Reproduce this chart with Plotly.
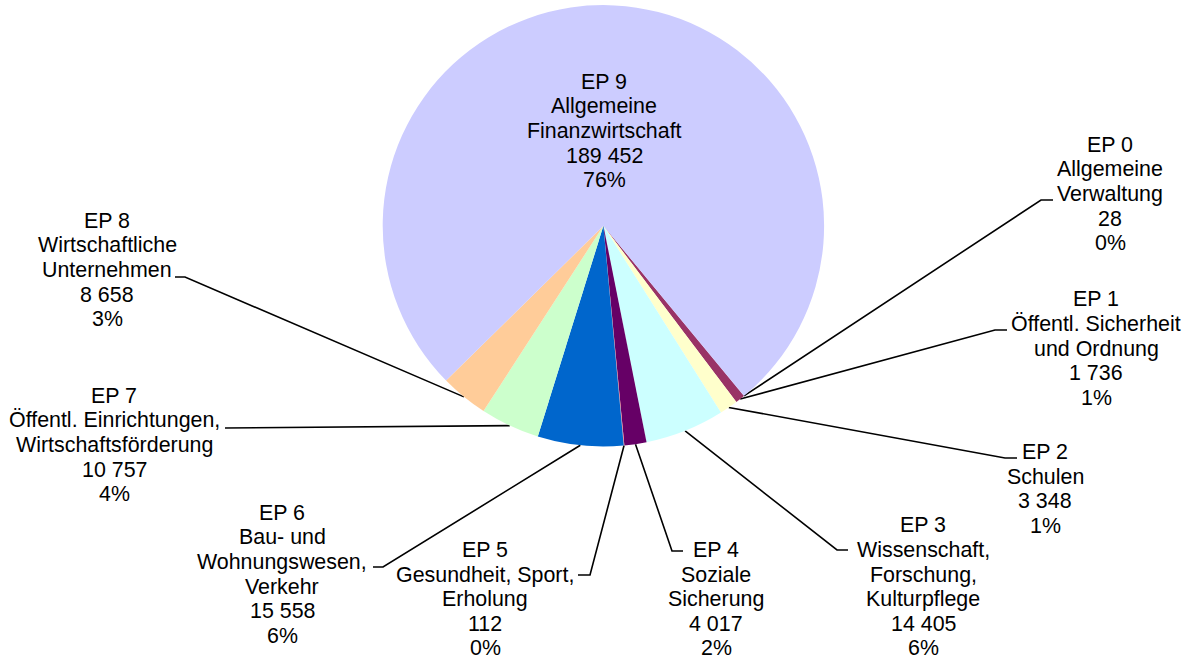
import math
import plotly.graph_objects as go

# data
codes = ["EP 0", "EP 1", "EP 2", "EP 3", "EP 4", "EP 5", "EP 6", "EP 7", "EP 8", "EP 9"]
names = [
    ["Allgemeine", "Verwaltung"],
    ["Öffentl. Sicherheit", "und Ordnung"],
    ["Schulen"],
    ["Wissenschaft,", "Forschung,", "Kulturpflege"],
    ["Soziale", "Sicherung"],
    ["Gesundheit, Sport,", "Erholung"],
    ["Bau- und", "Wohnungswesen,", "Verkehr"],
    ["Öffentl. Einrichtungen,", "Wirtschaftsförderung"],
    ["Wirtschaftliche", "Unternehmen"],
    ["Allgemeine", "Finanzwirtschaft"],
]
values = [28, 1736, 3348, 14405, 4017, 112, 15558, 10757, 8658, 189452]
colors = ["#9999FF", "#993366", "#FFFFCC", "#CCFFFF", "#660066",
          "#FF8080", "#0066CC", "#CCFFCC", "#FFCC99", "#CCCCFF"]

# layout (pixels)
W, H = 1189, 660
CX, CY, R = 603.4, 225.8, 220.7
ROTATION = 140.4
FONT = dict(family="Liberation Sans, Arial, sans-serif", size=21.4, color="black")
LINE_H = 24.6

# centre of each label block
label_pos = [(1110, 194), (1096, 348.6), (1045, 488.9), (923, 586.9), (716, 599.2),
             (485, 599.2), (282, 574.3), (114, 445), (107, 270), (604, 131)]
# where the leader meets the label: x, y, length of the short horizontal tick
leader_end = [(1041, 200, 12), (995, 330, 12), (1005, 458, 12), (837, 550, 11),
              (672, 551, 11), (590, 575, -12), (383, 567, -10), (237, 428, -12),
              (185, 277, -10), None]

total = sum(values)
fmt = lambda v: f"{v:,}".replace(",", " ")

fig = go.Figure()
fig.add_trace(go.Pie(
    labels=codes,
    values=values,
    sort=False,
    direction="clockwise",
    rotation=ROTATION,
    marker=dict(colors=colors, line=dict(width=0)),
    textinfo="none",
    showlegend=False,
    domain=dict(x=[(CX - R) / W, (CX + R) / W], y=[1 - (CY + R) / H, 1 - (CY - R) / H]),
))

# leader lines from the slice middles
angle = ROTATION
for i, v in enumerate(values):
    dang = v / total * 360
    mid = math.radians(angle + dang / 2)
    angle += dang
    if leader_end[i] is None:
        continue
    sx, sy = CX + R * math.sin(mid), CY - R * math.cos(mid)
    ex, ey, tick = leader_end[i]
    fig.add_trace(go.Scatter(
        x=[sx, ex, ex + tick], y=[sy, ey, ey],
        mode="lines", line=dict(color="black", width=1.6),
        hoverinfo="skip", showlegend=False,
    ))

annotations = []
for i, v in enumerate(values):
    lines = [codes[i]] + names[i] + [fmt(v), f"{round(v / total * 100)}%"]
    lx, ly = label_pos[i]
    n = len(lines)
    for k, t in enumerate(lines):
        annotations.append(dict(
            x=lx, y=ly + (k - (n - 1) / 2) * LINE_H, xref="x", yref="y",
            text=t, showarrow=False, font=FONT,
            xanchor="center", yanchor="middle",
        ))

fig.update_layout(
    width=W, height=H,
    margin=dict(l=0, r=0, t=0, b=0),
    paper_bgcolor="white", plot_bgcolor="rgba(0,0,0,0)",
    xaxis=dict(range=[0, W], visible=False, fixedrange=True),
    yaxis=dict(range=[H, 0], visible=False, fixedrange=True),
    annotations=annotations,
)

# page body margin would push the figure off by 8px
fig.write_html("out.html", config={"displayModeBar": False},
               post_script="document.body.style.margin='0';")
